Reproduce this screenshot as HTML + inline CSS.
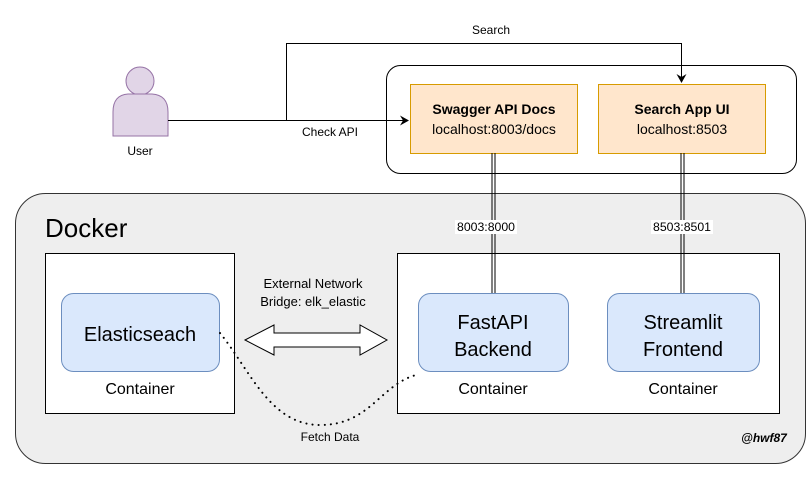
<!DOCTYPE html>
<html><head><meta charset="utf-8"><style>
body{margin:0;background:#fff;}
svg text{font-family:"Liberation Sans",Arial,sans-serif;}
</style></head><body>
<svg width="811" height="479" viewBox="0 0 811 479" xmlns="http://www.w3.org/2000/svg">
<defs><marker id="a" markerWidth="10" markerHeight="10" refX="8" refY="5" orient="auto" markerUnits="userSpaceOnUse"><path d="M0,0 L9,5 L0,10 L3,5 z" fill="#000"/></marker></defs>
<rect x="15.5" y="193.5" width="790" height="270" rx="30" fill="#eeeeee" stroke="#333" stroke-width="1"/>
<text x="45" y="237" font-size="26">Docker</text>
<rect x="386.5" y="65.5" width="410" height="108" rx="14" fill="#fff" stroke="#000"/>
<rect x="410.5" y="84.5" width="167" height="69" fill="#ffe6cc" stroke="#d79b00"/>
<rect x="598.5" y="84.5" width="167" height="69" fill="#ffe6cc" stroke="#d79b00"/>
<text x="494" y="114" font-size="14" font-weight="bold" text-anchor="middle">Swagger API Docs</text>
<text x="494" y="134" font-size="14" text-anchor="middle">localhost:8003/docs</text>
<text x="682" y="114" font-size="14" font-weight="bold" text-anchor="middle">Search App UI</text>
<text x="682" y="134" font-size="14" text-anchor="middle">localhost:8503</text>
<circle cx="140" cy="81" r="14" fill="#e1d5e7" stroke="#9673a6"/>
<path d="M113,136 L113,112 Q113,95 128,94 L152,94 Q168,95 168,112 L168,136 Z" fill="#e1d5e7" stroke="#9673a6"/>
<text x="140" y="155" font-size="12" text-anchor="middle">User</text>
<line x1="168" y1="120.5" x2="408" y2="120.5" stroke="#000" marker-end="url(#a)"/>
<polyline points="286.5,120 286.5,43.5 681.5,43.5 681.5,82" fill="none" stroke="#000" marker-end="url(#a)"/>
<text x="491" y="34" font-size="12" text-anchor="middle">Search</text>
<text x="330" y="136" font-size="12" text-anchor="middle">Check API</text>
<rect x="45.5" y="253.5" width="189" height="160" fill="#fff" stroke="#000"/>
<rect x="397.5" y="253.5" width="382" height="160" fill="#fff" stroke="#000"/>
<line x1="492" y1="153" x2="492" y2="293" stroke="#000"/>
<line x1="495" y1="153" x2="495" y2="293" stroke="#000"/>
<line x1="681" y1="153" x2="681" y2="293" stroke="#000"/>
<line x1="684" y1="153" x2="684" y2="293" stroke="#000"/>
<rect x="455" y="220" width="62" height="14" fill="#fff"/>
<rect x="651" y="220" width="62" height="14" fill="#fff"/>
<text x="486" y="231" font-size="12" text-anchor="middle" textLength="58" lengthAdjust="spacingAndGlyphs">8003:8000</text>
<text x="682" y="231" font-size="12" text-anchor="middle" textLength="58" lengthAdjust="spacingAndGlyphs">8503:8501</text>
<rect x="61.5" y="293.5" width="158" height="78" rx="12" fill="#dae8fc" stroke="#6c8ebf"/>
<rect x="418.5" y="293.5" width="150" height="78" rx="12" fill="#dae8fc" stroke="#6c8ebf"/>
<rect x="607.5" y="293.5" width="152" height="78" rx="12" fill="#dae8fc" stroke="#6c8ebf"/>
<text x="140" y="341" font-size="20" text-anchor="middle">Elasticseach</text>
<text x="493" y="329" font-size="20" text-anchor="middle">FastAPI</text>
<text x="493" y="356" font-size="20" text-anchor="middle">Backend</text>
<text x="683" y="329" font-size="20" text-anchor="middle">Streamlit</text>
<text x="683" y="356" font-size="20" text-anchor="middle">Frontend</text>
<text x="140" y="394" font-size="16" text-anchor="middle">Container</text>
<text x="493" y="394" font-size="16" text-anchor="middle">Container</text>
<text x="683" y="394" font-size="16" text-anchor="middle">Container</text>
<path d="M245,340 L274,325 L274,333 L360,333 L360,325 L387,340 L360,355 L360,347 L274,347 L274,355 Z" fill="#fff" stroke="#000"/>
<text x="313" y="288" font-size="13" text-anchor="middle">External Network</text>
<text x="313" y="306" font-size="13" text-anchor="middle">Bridge: elk_elastic</text>
<path d="M220,333 C250,370 270,425 320,425 C370,425 380,385 416,375" fill="none" stroke="#000" stroke-width="2" stroke-dasharray="0.1 6" stroke-linecap="round"/>
<text x="330" y="441" font-size="12" text-anchor="middle">Fetch Data</text>
<text x="764" y="442" font-size="12" font-weight="bold" font-style="italic" text-anchor="middle">@hwf87</text>
</svg>
</body></html>
